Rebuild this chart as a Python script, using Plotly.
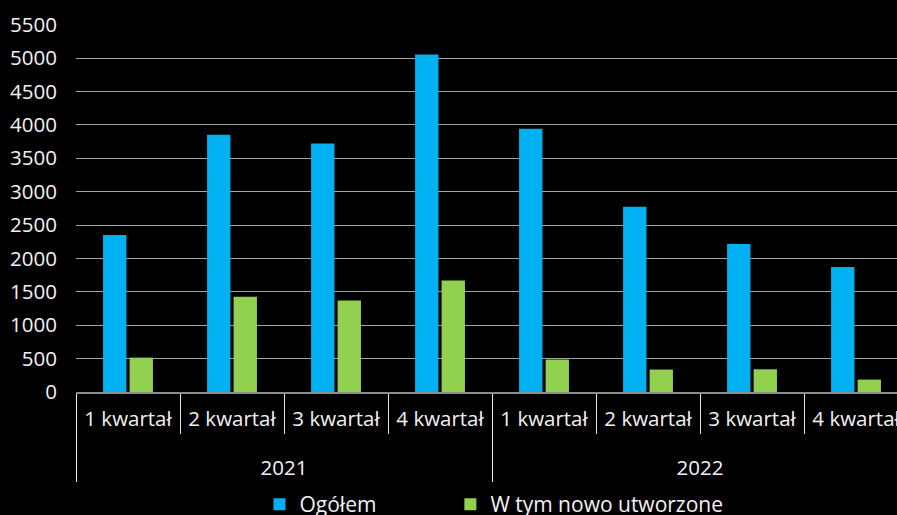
import plotly.graph_objects as go

years = ["<br>2021"] * 4 + ["<br>2022"] * 4
quarters = ["1 kwartał", "2 kwartał", "3 kwartał", "4 kwartał"] * 2
ogolem = [2350, 3850, 3720, 5055, 3940, 2775, 2215, 1870]
nowo = [515, 1425, 1370, 1670, 486, 336, 340, 186]

BLUE = "#00B0F0"
GREEN = "#92D050"
TXT = "#f2f2f2"
FONT = "Open Sans"
FS = 20.5

fig = go.Figure()
fig.add_trace(go.Bar(x=[years, quarters], y=ogolem, name="Ogółem", legend="legend",
                     marker=dict(color=BLUE, line=dict(width=0))))
fig.add_trace(go.Bar(x=[years, quarters], y=nowo, name="W tym nowo utworzone", legend="legend2",
                     marker=dict(color=GREEN, line=dict(width=0))))

leg_common = dict(orientation="h", xanchor="left", yref="container", y=0.060, yanchor="top",
                  font=dict(size=21, color=TXT), bgcolor="rgba(0,0,0,0)")
fig.update_layout(
    width=897, height=515,
    paper_bgcolor="black", plot_bgcolor="black",
    margin=dict(l=76, r=0, t=24, b=123),
    barmode="group", bargap=0.49, bargroupgap=0.12,
    font=dict(family=FONT, size=FS, color=TXT),
    showlegend=True,
    legend=dict(x=0.2235, **leg_common),
    legend2=dict(x=0.456, **leg_common),
)
fig.update_yaxes(range=[0, 5510], tickvals=list(range(0, 5501, 500)),
                 showgrid=True, gridcolor="#a3a3a3", gridwidth=1,
                 zeroline=False, showline=False, ticks="", ticklabelstandoff=18,
                 tickfont=dict(size=FS, color=TXT))
fig.update_xaxes(type="multicategory", range=[-0.5, 7.394],
                 showline=True, linecolor="#8c8c8c", linewidth=1.5,
                 ticks="outside", tickson="boundaries", ticklen=40, tickcolor="#e6e6e6", tickwidth=1.2,
                 showdividers=True, dividercolor="#f0f0f0", dividerwidth=1.2,
                 ticklabelstandoff=8, automargin=False,
                 tickfont=dict(size=FS, color=TXT), showgrid=False)

fig.write_html("out.html", config={"displayModeBar": False},
               post_script="document.body.style.margin='0';document.body.style.background='black';")
